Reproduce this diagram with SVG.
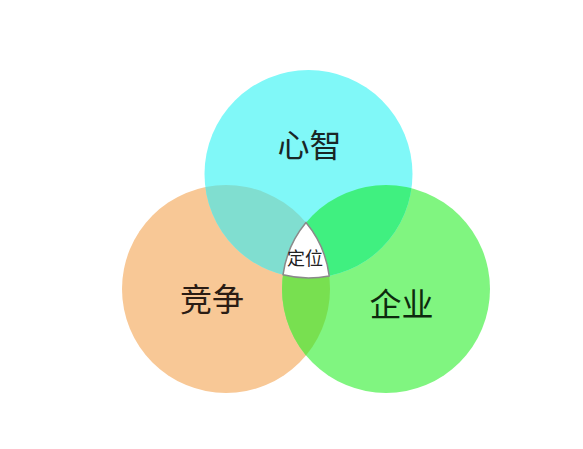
<svg xmlns="http://www.w3.org/2000/svg" width="583" height="449" viewBox="0 0 583 449">
<style>
.lbl{font-family:"Noto Sans CJK SC","Noto Sans",sans-serif;text-anchor:middle;}
.big{font-size:32px;}
.small{font-size:18px;fill:#222;}
</style>
<defs>
<clipPath id="cTop"><circle cx="308.5" cy="174" r="104"/></clipPath>
<clipPath id="cLeft"><circle cx="226" cy="289" r="104"/></clipPath>
<clipPath id="cRight"><circle cx="386" cy="289" r="104"/></clipPath>
</defs>
<rect width="583" height="449" fill="#ffffff"/>
<g id="node-jingzheng">
<circle cx="226" cy="289" r="104" fill="#F8C896"/>
</g>
<g id="node-qiye">
<circle cx="386" cy="289" r="104" fill="#80F580"/>
</g>
<g id="node-xinzhi">
<circle cx="308.5" cy="174" r="104" fill="#80F8F8"/>
</g>
<g id="overlaps">
<circle cx="226" cy="289" r="104" fill="#80DED0" clip-path="url(#cTop)"/>
<circle cx="386" cy="289" r="104" fill="#40F080" clip-path="url(#cTop)"/>
<circle cx="386" cy="289" r="104" fill="#78E050" clip-path="url(#cLeft)"/>
</g>
<g id="node-dingwei">
<path d="M306,222.6 A104,104 0 0 1 329.2,275.9 A104,104 0 0 1 283,274.8 A104,104 0 0 1 306,222.6 Z" fill="#ffffff" stroke="#8a8a8a" stroke-width="1.5"/>
<text class="lbl small" x="305" y="265">定位</text>
</g>
<g id="labels">
<text class="lbl big" x="309.5" y="157" fill="#1a2626">心智</text>
<text class="lbl big" x="212" y="311" fill="#2a1c14">竞争</text>
<text class="lbl big" x="401.5" y="316" fill="#0e2a0e">企业</text>
</g>
</svg>
